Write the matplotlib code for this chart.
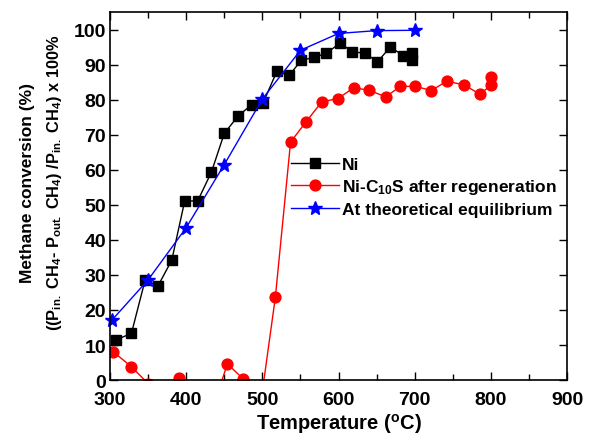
import numpy as np
import matplotlib
matplotlib.use("Agg")
import matplotlib.pyplot as plt
from matplotlib.ticker import MultipleLocator

plt.rcParams['font.family'] = ['Liberation Sans', 'DejaVu Sans']
plt.rcParams['font.weight'] = 'bold'
plt.rcParams['mathtext.fontset'] = 'custom'
plt.rcParams['mathtext.rm'] = 'Liberation Sans:bold'
plt.rcParams['mathtext.it'] = 'Liberation Sans:bold'
plt.rcParams['mathtext.bf'] = 'Liberation Sans:bold'

# Ni catalyst
ni_T = [308, 328, 346, 363, 381, 398, 415, 433, 450, 468, 486, 501, 519, 535,
        551, 568, 584, 602, 618, 635, 651, 668, 685, 697, 697]
ni_conv = [11.5, 13.3, 28.5, 26.9, 34.2, 51.1, 51.1, 59.3, 70.4, 75.3, 78.6, 79.1,
           88.1, 86.9, 91.2, 92.1, 93.2, 96.2, 93.6, 93.3, 90.8, 95.0, 92.6, 93.2, 91.4]

# Ni-C10S after regeneration (negative values fall below the axis)
reg_T = [304, 328, 350, 370, 391, 410, 430, 454, 475, 495, 517, 537, 557, 578,
         599, 620, 640, 662, 681, 701, 722, 742, 765, 786, 800, 800]
reg_conv = [8.1, 3.8, -1.0, -4.0, 0.5, -6.0, -11.2, 4.6, 0.3, -11.0, 23.6, 67.9,
            73.6, 79.4, 80.3, 83.4, 82.7, 80.8, 83.8, 83.8, 82.6, 85.3, 84.2, 81.5,
            84.2, 86.5]

# theoretical equilibrium
eq_T = [302, 350, 400, 450, 500, 550, 600, 650, 700]
eq_conv = [17.0, 28.6, 43.5, 61.5, 80.2, 94.1, 98.9, 99.7, 99.8]

fig = plt.figure(figsize=(5.95, 4.35), dpi=100)
ax = fig.add_axes([0.185, 0.124, 0.768, 0.846])

ax.plot(ni_T, ni_conv, color='black', lw=1, marker='s', ms=7, label='Ni')
ax.plot(reg_T, reg_conv, color='red', lw=1, marker='o', ms=7.8,
        label='Ni-C$_{10}$S after regeneration')
ax.plot(eq_T, eq_conv, color='blue', lw=1, marker='*', ms=10, clip_on=False,
        label='At theoretical equilibrium')

ax.set_xlim(300, 900)
ax.set_ylim(0, 105)
ax.xaxis.set_major_locator(MultipleLocator(100))
ax.xaxis.set_minor_locator(MultipleLocator(50))
ax.yaxis.set_major_locator(MultipleLocator(10))
ax.tick_params(which='both', direction='in', top=True, right=True, labelsize=14)
ax.tick_params(which='major', length=6, width=1)
ax.tick_params(which='minor', length=4, width=1)
ax.tick_params(axis='x', pad=8)
ax.tick_params(axis='y', pad=3)
for lbl in ax.get_xticklabels() + ax.get_yticklabels():
    lbl.set_fontweight('bold')
for s in ax.spines.values():
    s.set_linewidth(1.2)

ax.set_xlabel('Temperature ($^{o}$C)', fontsize=14.5, fontweight='bold', labelpad=2)

# two-line y label, drawn as separate texts
fig.text(28 / 595, 1 - 183 / 435, 'Methane conversion (%)', rotation=90,
         ha='center', va='center', fontsize=12.5, fontweight='bold')
fig.text(55 / 595, 1 - 183 / 435,
         '((P$_{in.}$ CH$_4$- P$_{out.}$ CH$_4$) /P$_{in.}$ CH$_4$) x 100%',
         rotation=90, ha='center', va='center', fontsize=11.8, fontweight='bold')

ax.legend(loc='upper left', bbox_to_anchor=(0.38, 0.625), frameon=False,
          fontsize=12.5, handlelength=2.8, handletextpad=0.15, labelspacing=0.3,
          borderaxespad=0)

fig.savefig('out.png', dpi=100)
